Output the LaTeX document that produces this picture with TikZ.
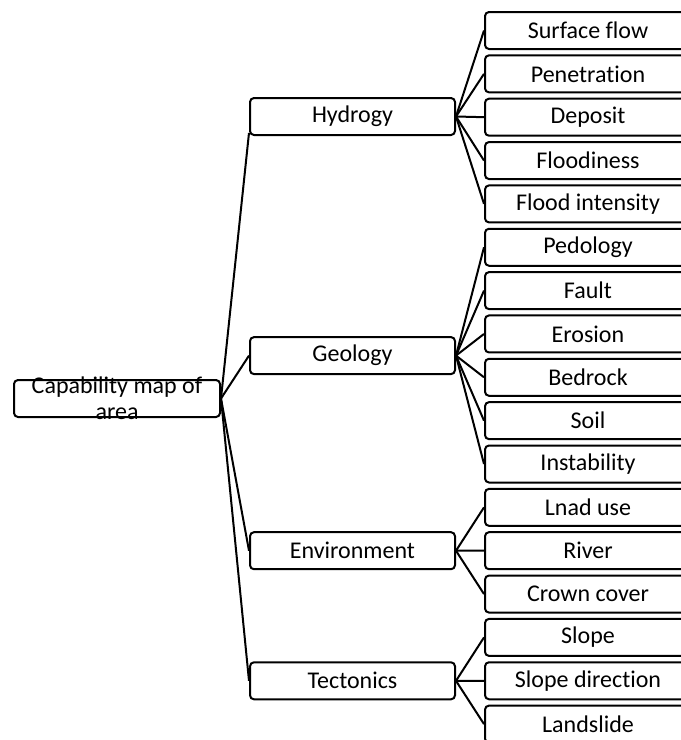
\documentclass[tikz,border=0pt]{standalone}
\usepackage{fontspec}
\setmainfont{Carlito}[Ligatures=NoCommon]
\begin{document}
\begin{tikzpicture}[x=1pt,y=-1pt,
  box/.style={draw=black, line width=2pt, rounded corners=4pt, inner sep=0pt,
    minimum height=37pt, font=\fontsize{24}{28}\selectfont, anchor=center},
  midbox/.style={box, minimum width=205pt},
  leafbox/.style={box, minimum width=206pt},
  link/.style={draw=black, line width=2pt}]
\useasboundingbox (0,0) rectangle (681,740);
\clip (0,0) rectangle (681,740);
\fill[white] (0,0) rectangle (681,740);
% root
\node[box, minimum width=206pt] (root) at (117,398.5)
  {\raisebox{-8.5pt}[0pt][0pt]{\begin{tabular}{@{}c@{}}Capability map of\\[-2pt]area\end{tabular}}};
% middle level
\node[midbox] (hyd) at (352.5,116.5) {Hydrogy};
\node[midbox] (geo) at (352.5,355.6) {Geology};
\node[midbox] (env) at (352.5,550.7) {Environment};
\node[midbox] (tec) at (352.5,680.8) {Tectonics};
% leaves
\foreach \name/\txt [count=\i from 0] in {
  l0/Surface flow, l1/Penetration, l2/Deposit, l3/Floodiness, l4/Flood intensity,
  l5/Pedology, l6/Fault, l7/Erosion, l8/Bedrock, l9/Soil, l10/Instability,
  l11/Lnad use, l12/River, l13/Crown cover,
  l14/Slope, l15/Slope direction, l16/Landslide}
  \node[leafbox] (\name) at (588,30.5+43.35*\i) {\txt};
% connectors root -> middle
\draw[link] (root.east) -- (hyd.189);
\draw[link] (root.east) -- (geo.west);
\draw[link] (root.east) -- (env.west);
\draw[link] (root.east) -- (tec.west);
% connectors middle -> leaves
\foreach \j in {0,...,4} \draw[link] (hyd.east) -- (l\j.west);
\foreach \j in {5,...,10} \draw[link] (geo.east) -- (l\j.west);
\foreach \j in {11,...,13} \draw[link] (env.east) -- (l\j.west);
\foreach \j in {14,...,16} \draw[link] (tec.east) -- (l\j.west);
\end{tikzpicture}
\end{document}
